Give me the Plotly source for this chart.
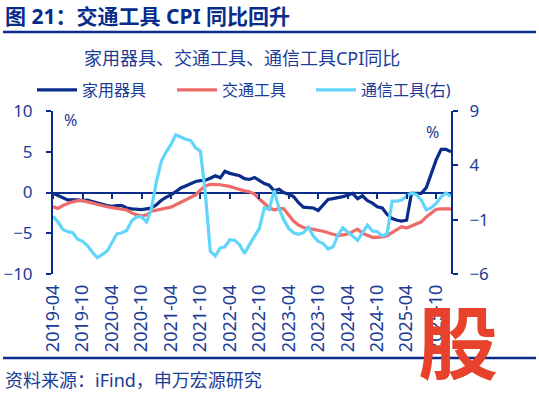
import pandas as pd
import plotly.graph_objects as go

months = pd.date_range("2019-04-01", "2026-01-01", freq="MS")

home_appliances = [
    -0.1, -0.4, -0.7, -0.9, -0.9, -0.9, -1.0, -0.95, -1.1, -1.3,
    -1.5, -1.6, -1.7, -1.6, -1.6, -1.9, -2.0, -2.1, -2.1, -2.0,
    -1.9, -1.5, -0.95, -0.6, -0.3, 0.1, 0.55, 0.8, 1.1, 1.35,
    1.45, 1.5, 1.75, 2.05, 1.8, 2.6, 2.35, 2.2, 2.05, 1.7,
    1.6, 1.85, 1.5, 1.1, 0.9, 0.2, 0.4, 0.0, -0.2, -0.5,
    -1.25, -1.8, -1.85, -1.9, -2.2, -1.5, -0.85, -0.75, -0.65, -0.5,
    -0.35, -0.1, -0.75, -0.4, -1.0, -1.3, -1.75, -1.9, -2.7, -3.2,
    -3.4, -3.5, -3.4, -0.1, -0.1, -0.1, 0.6, 2.2, 4.0, 5.3,
    5.3, 5.0,
]
vehicles = [
    -1.75, -1.95, -1.6, -1.35, -1.15, -1.0, -1.0, -1.15, -1.3, -1.5,
    -1.65, -1.75, -1.85, -1.95, -2.0, -2.15, -2.5, -2.75, -2.85, -2.75,
    -2.3, -2.15, -2.0, -1.95, -1.8, -1.5, -1.2, -0.85, -0.55, -0.3,
    0.3, 0.8, 1.0, 1.0, 0.95, 0.85, 0.75, 0.55, 0.35, 0.2,
    0.1, -0.2, -0.8, -1.35, -1.85, -2.15, -1.95, -2.0, -2.7, -3.5,
    -4.0, -4.3, -4.4, -4.5, -4.6, -4.75, -4.95, -5.1, -5.3, -5.2,
    -5.1, -4.8, -4.5, -5.0, -5.3, -5.5, -5.5, -5.45, -5.3, -4.9,
    -4.5, -4.2, -4.35, -4.1, -3.9, -3.6, -3.0, -2.5, -2.05, -2.0,
    -2.0, -2.0,
]
telecom = [
    -0.7, -1.2, -1.9, -2.1, -2.2, -2.8, -3.0, -3.4, -4.0, -4.5,
    -4.2, -3.9, -3.1, -2.3, -2.2, -2.0, -1.1, -0.75, -0.75, -1.2,
    0.0, 2.5, 4.4, 5.2, 5.9, 6.8, 6.6, 6.4, 6.3, 5.6,
    5.3, 1.3, -3.9, -4.35, -3.6, -3.5, -2.85, -2.9, -3.3, -4.1,
    -3.3, -2.6, -1.8, 0.1, -0.05, 1.7, 0.0, -1.0, -1.8, -2.2,
    -2.35, -2.2, -1.7, -2.5, -3.0, -3.2, -3.7, -3.5, -2.4, -1.75,
    -2.1, -2.5, -2.9, -2.2, -1.5, -2.05, -2.1, -2.5, -2.3, 0.7,
    0.7, 0.8, 1.2, 1.45, 1.3, 0.8, -0.1, 0.1, 0.5, 1.1,
    1.45, 1.15,
]

names = ["家用器具", "交通工具", "通信工具(右)"]
title_text = "图 21：交通工具 CPI 同比回升"
subtitle_text = "家用器具、交通工具、通信工具CPI同比"
source_text = "资料来源：iFind，申万宏源研究"

NAVY = "#0a2d8c"
TXT = "#1c3c96"
RED = "#ee6b68"
CYAN = "#62d5fb"
FONT = "Noto Sans, Noto Sans CJK SC, sans-serif"

W, H = 539, 395
L, R, T, B = 53, 451, 111, 274
def px(x):
    return (x - L) / (R - L)
def py(y):
    return (B - y) / (B - T)

fig = go.Figure()
fig.add_trace(go.Scatter(x=months, y=home_appliances, name=names[0], mode="lines",
                         line=dict(color=NAVY, width=3.2), legend="legend"))
fig.add_trace(go.Scatter(x=months, y=vehicles, name=names[1], mode="lines",
                         line=dict(color=RED, width=3.2), legend="legend2"))
fig.add_trace(go.Scatter(x=months, y=telecom, name=names[2], mode="lines", yaxis="y2",
                         line=dict(color=CYAN, width=3.2), legend="legend3"))
# helper trace on overlay axis for tick marks on the zero line
fig.add_trace(go.Scatter(x=months, y=[None] * len(months), xaxis="x2", showlegend=False,
                         hoverinfo="skip"))

def leg(xpix):
    return dict(orientation="h", x=px(xpix), y=py(90), xanchor="left", yanchor="middle",
                font=dict(size=16, color=TXT), itemwidth=40,
                bgcolor="rgba(0,0,0,0)", borderwidth=0)

fig.update_layout(
    width=W, height=H,
    margin=dict(l=L, r=W - R, t=T, b=H - B, autoexpand=False),
    paper_bgcolor="white", plot_bgcolor="white",
    font=dict(family=FONT, color=TXT, size=16),
    showlegend=True,
    legend=leg(32), legend2=leg(172), legend3=leg(311),
    xaxis=dict(type="date", range=[months[0], months[-1]], automargin=False,
               tick0=months[0], dtick="M6", tickformat="%Y-%m", tickangle=-90,
               ticks="", showline=False, showgrid=False, zeroline=False,
               tickfont=dict(size=18, color=TXT), ticklabelstandoff=6),
    xaxis2=dict(type="date", overlaying="x", matches="x", anchor="free", position=0.5,
                side="bottom", tick0=months[0], dtick="M6", ticks="outside", ticklen=5,
                tickwidth=2, tickcolor=NAVY, showticklabels=False, showline=False,
                showgrid=False, zeroline=False, automargin=False),
    yaxis=dict(range=[-10, 10], dtick=5, tick0=0, ticks="outside", ticklen=5, tickwidth=2,
               tickcolor=NAVY, showline=True, linewidth=2, linecolor=NAVY, automargin=False,
               showgrid=False, zeroline=True, zerolinecolor=NAVY, zerolinewidth=2,
               tickfont=dict(size=17, color=TXT), ticklabelstandoff=10),
    yaxis2=dict(range=[-6, 9], dtick=5, tick0=-6, overlaying="y", side="right",
                ticks="outside", ticklen=5, tickwidth=2, tickcolor=NAVY, automargin=False,
                showline=True, linewidth=2, linecolor=NAVY, showgrid=False,
                zeroline=False, tickfont=dict(size=17, color=TXT), ticklabelstandoff=8),
)

fig.add_annotation(text="<b>" + title_text + "</b>", x=px(3), y=py(16), xref="paper",
                   yref="paper", showarrow=False, xanchor="left", yanchor="middle",
                   font=dict(size=21, color=NAVY))
fig.add_annotation(text=subtitle_text, x=px(242), y=py(58), xref="paper", yref="paper",
                   showarrow=False, xanchor="center", yanchor="middle",
                   font=dict(size=18, color=TXT))
fig.add_annotation(text="%", x=px(62), y=py(120), xref="paper", yref="paper",
                   showarrow=False, xanchor="left", yanchor="middle",
                   font=dict(size=16, color=TXT))
fig.add_annotation(text="%", x=px(441), y=py(132), xref="paper", yref="paper",
                   showarrow=False, xanchor="right", yanchor="middle",
                   font=dict(size=16, color=TXT))
fig.add_annotation(text=source_text, x=px(3), y=py(380), xref="paper", yref="paper",
                   showarrow=False, xanchor="left", yanchor="middle",
                   font=dict(size=18, color=TXT))
fig.add_annotation(text="<b>股</b>", x=px(458), y=py(338), xref="paper", yref="paper",
                   showarrow=False, xanchor="center", yanchor="middle",
                   font=dict(size=80, color="#e8412c", family="Noto Sans CJK SC"))

fig.add_shape(type="line", xref="paper", yref="paper", x0=px(3), x1=px(536),
              y0=py(32), y1=py(32), line=dict(color=NAVY, width=2.5))
fig.add_shape(type="line", xref="paper", yref="paper", x0=px(3), x1=px(536),
              y0=py(358), y1=py(358), line=dict(color=NAVY, width=2.5))

fig.write_html("out.html", config={"displayModeBar": False},
               post_script="document.body.style.margin='0';document.body.style.overflow='hidden';")
